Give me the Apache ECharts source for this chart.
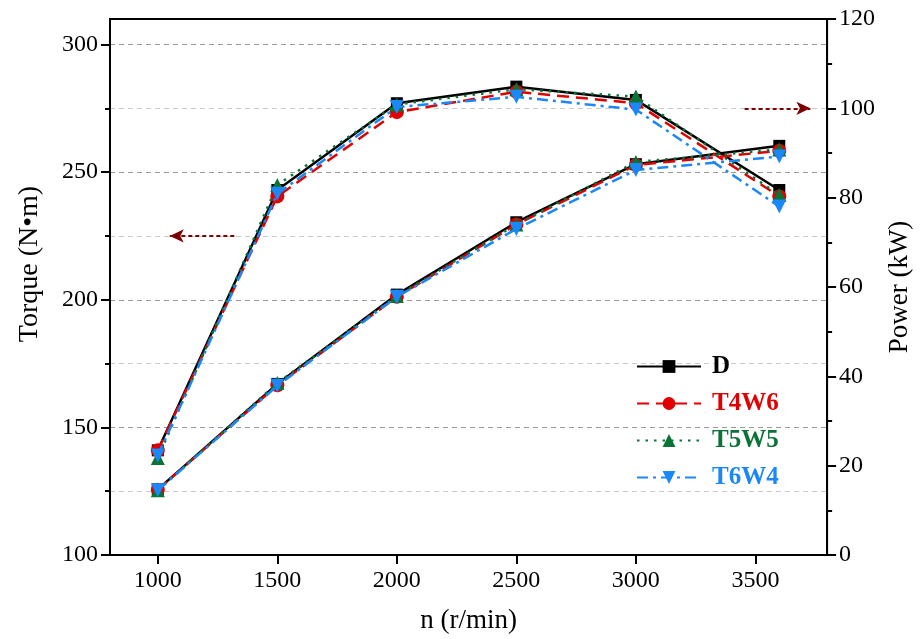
<!DOCTYPE html>
<html>
<head>
<meta charset="utf-8">
<script src="https://cdn.jsdelivr.net/npm/echarts@6/dist/echarts.min.js"></script>
<style>html,body{margin:0;padding:0;background:#fff;}#c{width:921px;height:639px;}</style>
</head>
<body>
<div id="c"></div>
<script>
const rpm = [1000, 1500, 2000, 2500, 3000, 3600];
const seriesNames = ['D', 'T4W6', 'T5W5', 'T6W4'];
const torqueD    = [141, 243, 277, 283.5, 278.3, 243];
const torqueT4W6 = [141, 240.5, 273.5, 281.5, 277, 240.5];
const torqueT5W5 = [138, 245, 276.5, 282.5, 279.6, 241];
const torqueT6W4 = [139, 241.5, 275.5, 279.5, 274.5, 236.5];
const powerD    = [14.7, 38.3, 58.3, 74.5, 87.5, 91.6];
const powerT4W6 = [14.6, 38.0, 57.8, 74.0, 87.3, 90.5];
const powerT5W5 = [14.5, 38.5, 58.0, 74.0, 88.0, 90.8];
const powerT6W4 = [14.5, 37.9, 57.8, 73.0, 86.2, 89.2];
const xTicks = [1000, 1500, 2000, 2500, 3000, 3500];
const torqueTicks = [100, 150, 200, 250, 300];
const torqueMinorTicks = [125, 175, 225, 275];
// annotation arrows (data coordinates)
const torqueArrow = [[1320, 225], [1050, 225]];
const powerArrow = [[3455, 100], [3730, 100]];

const FONT = 'Liberation Serif';
const colors = ['#000000', '#e00000', '#0a7335', '#1a88f8'];
const symbols = ['rect', 'circle', 'triangle', 'triangle'];
const rotates = [0, 0, 0, 180];
const dashes = ['solid', [12, 7], [2.5, 6], [11, 5, 3, 5]];
const torqueSets = [torqueD, torqueT4W6, torqueT5W5, torqueT6W4];
const powerSets = [powerD, powerT4W6, powerT5W5, powerT6W4];

function mkSeries(name, i, data, yIdx, arrow) {
  const s = {
    name: name, type: 'line', yAxisIndex: yIdx,
    data: rpm.map((x, k) => [x, data[k]]),
    symbol: symbols[i], symbolRotate: rotates[i], symbolSize: i === 0 ? 12 : 14,
    itemStyle: { color: colors[i] },
    lineStyle: { color: colors[i], width: 2.5, type: dashes[i] },
    z: 2 + i, animation: false
  };
  if (arrow) {
    s.markLine = {
      silent: true, animation: false,
      symbol: ['none', 'arrow'], symbolSize: [10, 14],
      label: { show: false },
      lineStyle: { color: '#7b0000', width: 2, type: [4, 3] },
      data: [[{ coord: arrow[0] }, { coord: arrow[1] }]]
    };
  }
  return s;
}

const series = [];
seriesNames.forEach((n, i) => series.push(mkSeries(n, i, torqueSets[i], 0, i === 0 ? torqueArrow : null)));
seriesNames.forEach((n, i) => series.push(mkSeries(n, i, powerSets[i], 1, i === 0 ? powerArrow : null)));

const chart = echarts.init(document.getElementById('c'), null, { renderer: 'canvas' });
chart.setOption({
  animation: false,
  backgroundColor: '#fff',
  grid: { left: 110, right: 91, top: 19, bottom: 84, show: true, borderColor: '#000', borderWidth: 2, backgroundColor: 'transparent' },
  legend: {
    data: seriesNames, orient: 'vertical', left: 631, top: 349,
    itemWidth: 64, itemHeight: 16, itemGap: 12,
    textStyle: { fontFamily: FONT, fontWeight: 'bold', fontSize: 25, color: 'inherit', padding: [0, 0, 0, 6] }
  },
  xAxis: {
    type: 'value', min: 800, max: 3800,
    name: 'n (r/min)', nameLocation: 'middle', nameGap: 52,
    nameTextStyle: { fontFamily: FONT, fontSize: 27, color: '#000' },
    axisLine: { show: true, lineStyle: { color: '#000', width: 2 } },
    axisTick: { show: true, inside: false, length: 9, customValues: xTicks, lineStyle: { color: '#000', width: 2 } },
    axisLabel: { customValues: xTicks, formatter: v => String(v), fontFamily: FONT, fontSize: 24, color: '#000', margin: 14 },
    splitLine: { show: false }
  },
  yAxis: [
    {
      type: 'value', min: 100, max: 310, interval: 50, position: 'left',
      name: 'Torque (N•m)', nameLocation: 'middle', nameGap: 66, nameRotate: 90,
      nameTextStyle: { fontFamily: FONT, fontSize: 28, color: '#000', padding: [0, 0, 0, 46] },
      axisLine: { show: true, lineStyle: { color: '#000', width: 2 } },
      axisTick: { show: true, length: 9, customValues: torqueTicks, lineStyle: { color: '#000', width: 2 } },
      axisLabel: { customValues: torqueTicks, fontFamily: FONT, fontSize: 24, color: '#000', margin: 12 },
      splitLine: { show: true, showMinLine: true, showMaxLine: true, lineStyle: { color: '#999', width: 1.2, type: [5, 4] } }
    },
    {
      type: 'value', min: 0, max: 120, interval: 20, position: 'right',
      name: 'Power (kW)', nameLocation: 'middle', nameGap: 56, nameRotate: 90,
      nameTextStyle: { fontFamily: FONT, fontSize: 27, color: '#000' },
      axisLine: { show: true, lineStyle: { color: '#000', width: 2 } },
      axisTick: { show: true, length: 9, lineStyle: { color: '#000', width: 2 } },
      minorTick: { show: true, splitNumber: 2, length: 5, lineStyle: { color: '#000', width: 2 } },
      axisLabel: { fontFamily: FONT, fontSize: 24, color: '#000', margin: 12 },
      splitLine: { show: false }
    },
    {
      type: 'value', min: 100, max: 310, interval: 25, position: 'left',
      axisLine: { show: false },
      axisTick: { show: true, length: 5, customValues: torqueMinorTicks, lineStyle: { color: '#000', width: 2 } },
      axisLabel: { show: false },
      splitLine: { show: true, showMinLine: true, showMaxLine: true, lineStyle: { color: '#ccc', width: 1.2, type: [5, 4] } }
    }
  ],
  series: series
});
</script>
</body>
</html>
